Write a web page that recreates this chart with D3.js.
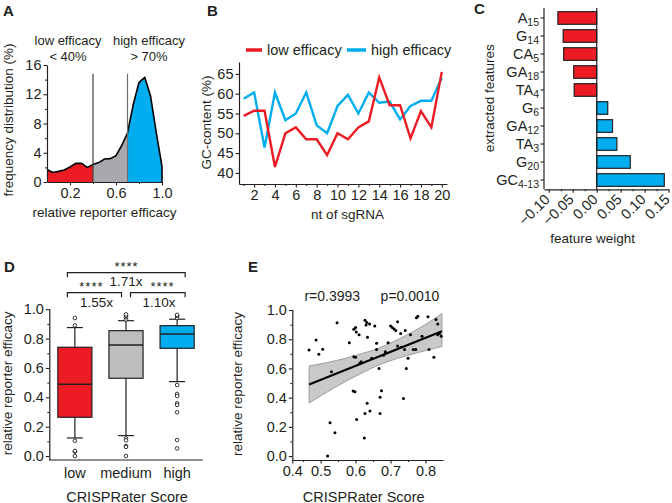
<!DOCTYPE html>
<html><head><meta charset="utf-8">
<script src="https://cdn.jsdelivr.net/npm/d3@7"></script>
<style>
body{margin:0;background:#fff}
svg text{font-family:"Liberation Sans",Arial,sans-serif;fill:#231f20}
</style></head><body><svg id="c" width="672" height="503"></svg>
<script>
// ---------- DATA ----------
// Panel A: frequency distribution of relative reporter efficacy
const effX  = [0.00,0.05,0.10,0.15,0.20,0.25,0.30,0.35,0.40,0.45,0.50,0.55,0.60,0.65,0.70,0.75,0.80,0.85,0.90,0.95,1.00];
const freqY = [1.7, 1.3, 1.45,1.65,2.05,2.55,2.55,2.0, 2.4, 2.65,3.15,3.2, 3.6, 5.0, 6.7, 10.6,13.6,14.3,11.8,6.8, 2.1];
const cutoffs = [0.4, 0.7];
const aYTicks = [0,4,8,12,16];
const aXTicks = [0.2,0.6,1.0];

// Panel B: GC content per nucleotide position
const ntPos = d3.range(1,21);
const gcLow  = [54.4,55.7,55.7,41.5,50.0,51.5,48.5,48.5,44.5,50.0,48.5,51.5,53.0,64.1,57.1,57.1,48.7,55.6,51.5,65.5];
const gcHigh = [58.7,60.3,46.4,60.3,53.3,55.0,60.3,52.0,50.0,56.9,59.7,55.0,60.3,57.7,58.0,53.5,56.9,58.2,58.2,64.0];
const bYTicks = [40,45,50,55,60,65];
const bXTicks = [2,4,6,8,10,12,14,16,18,20];

// Panel C: feature weights
const featBase = ["A","G","CA","GA","TA","G","GA","TA","G","GC"];
const featSub  = ["15","14","5","18","4","6","12","3","20","4-13"];
const featW    = [-0.081,-0.070,-0.069,-0.048,-0.047,0.023,0.033,0.042,0.070,0.141];
const cTicks = [-0.10,-0.05,0.00,0.05,0.10,0.15];

// Panel D: box plots
const dCats = ["low","medium","high"];
const dQ1  = [0.264,0.530,0.734];
const dMed = [0.489,0.757,0.832];
const dQ3  = [0.741,0.854,0.888];
const dLo  = [0.123,0.139,0.507];
const dHi  = [0.875,0.922,0.932];
const dOutLow  = [0.89,0.94,0.104,0.03,0.035,0.0];
const dOutMed  = [0.93,0.945,0.955,0.965,0.12,0.107,0.068,0.062,0.0];
const dOutHigh = [0.94,0.955,0.962,0.484,0.423,0.409,0.359,0.348,0.298,0.109,0.052];
const dYTicks = [0.0,0.2,0.4,0.6,0.8,1.0];
const dFold = ["1.55x","1.10x","1.71x"];

// Panel E: scatter
const eX = [0.467,0.487,0.495,0.506,0.547,0.582,0.595,0.600,0.602,0.610,0.595,0.600,0.612,0.616,0.627,0.632,0.640,0.630,0.634,0.646,0.655,0.660,0.660,0.667,0.680,0.685,0.693,0.700,0.705,0.710,0.715,0.720,0.720,0.729,0.730,0.740,0.742,0.745,0.750,0.757,0.765,0.772,0.774,0.778,0.790,0.807,0.810,0.824,0.830,0.835,0.835,0.840,0.845,0.531,0.593,0.598,0.674,0.670,0.633,0.641,0.627,0.670,0.737,0.603,0.527,0.541,0.625,0.520];
const eY = [0.726,0.795,0.697,0.731,0.913,0.776,0.868,0.880,0.850,0.830,0.680,0.676,0.635,0.645,0.930,0.915,0.905,0.898,0.813,0.669,0.890,0.772,0.730,0.600,0.690,0.714,0.776,0.890,0.880,0.870,0.860,0.753,0.920,0.840,0.745,0.730,0.860,0.600,0.670,0.830,0.730,0.730,0.947,0.957,0.820,0.954,0.730,0.676,0.935,0.905,0.830,0.840,0.820,0.577,0.445,0.440,0.447,0.403,0.361,0.308,0.292,0.292,0.395,0.251,0.228,0.160,0.123,0.000];
const fitX = [0.467,0.847];
const fitY = [0.490,0.855];
const bandX  = [0.467,0.520,0.570,0.620,0.665,0.720,0.770,0.847];
const bandUp = [0.617,0.641,0.669,0.703,0.738,0.797,0.859,0.975];
const bandLo = [0.363,0.441,0.509,0.571,0.622,0.669,0.703,0.750];
const eYTicks = [0.0,0.2,0.4,0.6,0.8,1.0];
const eXTicks = [0.5,0.6,0.7,0.8];

// ---------- STYLE ----------
const INK="#231f20", RED="#ed1c24", BLUE="#00aeef", GRAY="#a7a9ac";
const FS=13, TFS=14.5;
const svg=d3.select("#c");

function styleAxis(g){
  g.select(".domain").attr("stroke",INK).attr("stroke-width",1.2);
  g.selectAll(".tick line").attr("stroke",INK).attr("stroke-width",1.1);
  g.selectAll(".tick text").attr("fill",INK).attr("font-size",TFS).attr("font-family","Liberation Sans, Arial, sans-serif");
}
function minorTicks(g, axis, vals){
  g.append("g").call(axis.tickValues(vals).tickSize(2).tickFormat(""))
   .call(s=>s.select(".domain").remove())
   .selectAll("line").attr("stroke",INK).attr("stroke-width",1);
}
function label(txt,x,y){svg.append("text").attr("x",x).attr("y",y).attr("font-size",15).attr("font-weight","bold").text(txt);}
function title(txt,x,y,rot){
  const t=svg.append("text").attr("font-size",FS+0.5).attr("text-anchor","middle").text(txt);
  if(rot) t.attr("transform",`translate(${x},${y}) rotate(-90)`); else t.attr("x",x).attr("y",y);
  return t;
}

// ---------- PANEL A ----------
{
  const x=d3.scaleLinear().domain([0,1]).range([47,162]);
  const y=d3.scaleLinear().domain([0,16]).range([182,65]);
  const g=svg.append("g");
  const pts=effX.map((v,i)=>({x:v,y:freqY[i]}));
  const area=d3.area().x(d=>x(d.x)).y0(y(0)).y1(d=>y(d.y));
  [[0,cutoffs[0],RED],[cutoffs[0],cutoffs[1],GRAY],[cutoffs[1],1,BLUE]].forEach(([lo,hi,c])=>{
    g.append("path").datum(pts.filter(p=>p.x>=lo-1e-9&&p.x<=hi+1e-9)).attr("d",area).attr("fill",c);
  });
  g.append("path").datum(pts.concat([{x:1,y:0}])).attr("fill","none").attr("stroke","#000").attr("stroke-width",1.6)
   .attr("d",d3.line().x(d=>x(d.x)).y(d=>y(d.y)));
  cutoffs.forEach((c,i)=>g.append("line").attr("x1",x(c)).attr("x2",x(c)).attr("y1",y(14.8)).attr("y2",y(0))
     .attr("stroke",i?"#6d6e71":"#414042").attr("stroke-width",1.2));
  g.append("g").attr("transform","translate(47,0)").call(d3.axisLeft(y).tickValues(aYTicks).tickSize(3.5).tickPadding(2).tickSizeOuter(0)).call(styleAxis)
   .call(s=>minorTicks(s,d3.axisLeft(y),[2,6,10,14]));
  g.append("g").attr("transform","translate(0,182)").call(d3.axisBottom(x).tickValues(aXTicks).tickFormat(d3.format(".1f")).tickSize(3.5).tickPadding(2).tickSizeOuter(0)).call(styleAxis)
   .call(s=>minorTicks(s,d3.axisBottom(x),[0.4,0.8]));
  [["low efficacy",68,45.3],["< 40%",68,60.5],["high efficacy",149,45.3],["> 70%",149,60.5]].forEach(([t,a,b])=>
    svg.append("text").attr("x",a).attr("y",b).attr("text-anchor","middle").attr("font-size",FS).text(t));
  title("frequency distribution (%)",13,120,true);
  title("relative reporter efficacy",104.5,216.5);
  label("A",3,15.5);
}

// ---------- PANEL B ----------
{
  const x=d3.scaleLinear().domain([0.55,20.5]).range([239,447]);
  const y=d3.scaleLinear().domain([37.2,68]).range([184,62]);
  const g=svg.append("g");
  const line=d3.line().x((d,i)=>x(ntPos[i])).y(d=>y(d));
  g.append("path").datum(gcHigh).attr("d",line).attr("fill","none").attr("stroke",BLUE).attr("stroke-width",2.4);
  g.append("path").datum(gcLow).attr("d",line).attr("fill","none").attr("stroke",RED).attr("stroke-width",2.4);
  g.append("g").attr("transform","translate(239,0)").call(d3.axisLeft(y).tickValues(bYTicks).tickSize(3.5).tickPadding(2).tickSizeOuter(0)).call(styleAxis);
  g.append("g").attr("transform","translate(0,184)").call(d3.axisBottom(x).tickValues(bXTicks).tickSize(3.5).tickPadding(2).tickSizeOuter(0)).call(styleAxis)
   .call(s=>minorTicks(s,d3.axisBottom(x),[1,3,5,7,9,11,13,15,17,19]));
  // legend
  g.append("line").attr("x1",246).attr("x2",262).attr("y1",50).attr("y2",50).attr("stroke",RED).attr("stroke-width",3.5);
  g.append("text").attr("x",267).attr("y",54.5).attr("font-size",14.5).text("low efficacy");
  g.append("line").attr("x1",347).attr("x2",366).attr("y1",50).attr("y2",50).attr("stroke",BLUE).attr("stroke-width",3.5);
  g.append("text").attr("x",371).attr("y",54.5).attr("font-size",14.5).text("high efficacy");
  title("GC-content (%)",211,122.5,true);
  title("nt of sgRNA",347.5,218.5);
  label("B",207,15.5);
}

// ---------- PANEL C ----------
{
  const x=d3.scaleLinear().domain([-0.11,0.15]).range([544,668.6]);
  const y=d3.scaleBand().domain(d3.range(featW.length)).range([9,189]).paddingInner(0.3).paddingOuter(0.15);
  const g=svg.append("g");
  g.selectAll("rect").data(featW).join("rect")
   .attr("x",d=>x(Math.min(0,d))).attr("width",d=>Math.abs(x(d)-x(0)))
   .attr("y",(d,i)=>y(i)).attr("height",y.bandwidth())
   .attr("fill",d=>d<0?RED:BLUE).attr("stroke",INK).attr("stroke-width",1.2);
  g.append("line").attr("x1",x(0)).attr("x2",x(0)).attr("y1",8).attr("y2",189.3).attr("stroke",INK).attr("stroke-width",1.2);
  const ax=g.append("g").attr("transform","translate(544,0)").call(d3.axisLeft(y).tickSize(3.5).tickFormat("").tickSizeOuter(0)).call(styleAxis);
  ax.select(".domain").attr("d","M0,8V189.3");
  featBase.forEach((b,i)=>{
    const t=g.append("text").attr("x",539).attr("y",y(i)+y.bandwidth()/2+4.5).attr("text-anchor","end").attr("font-size",14.5).text(b);
    t.append("tspan").attr("font-size",10.5).attr("dy",3).text(featSub[i]);
  });
  const bx=g.append("g").attr("transform","translate(0,189.3)").call(d3.axisBottom(x).tickValues(cTicks).tickSize(3.5).tickSizeOuter(0).tickFormat(d3.format(".2f"))).call(styleAxis);
  bx.selectAll(".tick text").attr("text-anchor","end").attr("dy",0).attr("y",0)
    .attr("transform","translate(1.5,11) rotate(-45)");
  minorTicks(bx,d3.axisBottom(x),[-0.075,-0.025,0.025,0.075,0.125]);
  title("extracted features",494.3,98.3,true);
  title("feature weight",592.7,242.6);
  label("C",474,14);
}

// ---------- PANEL D ----------
{
  const x=d3.scaleBand().domain(dCats).range([49.3,202.7]).paddingInner(0.333).paddingOuter(0.1667);
  const y=d3.scaleLinear().domain([-0.027,1.005]).range([460,308.5]);
  const g=svg.append("g");
  const cols=[RED,"#bcbec0",BLUE];
  const outs=[dOutLow,dOutMed,dOutHigh];
  dCats.forEach((c,i)=>{
    const cx=x(c)+x.bandwidth()/2, w=x.bandwidth();
    g.append("line").attr("x1",cx).attr("x2",cx).attr("y1",y(dLo[i])).attr("y2",y(dHi[i])).attr("stroke",INK).attr("stroke-width",1.2);
    [dLo[i],dHi[i]].forEach(v=>g.append("line").attr("x1",cx-8).attr("x2",cx+8).attr("y1",y(v)).attr("y2",y(v)).attr("stroke",INK).attr("stroke-width",1.2));
    g.append("rect").attr("x",x(c)).attr("width",w).attr("y",y(dQ3[i])).attr("height",y(dQ1[i])-y(dQ3[i]))
     .attr("fill",cols[i]).attr("stroke",INK).attr("stroke-width",1.2);
    g.append("line").attr("x1",x(c)).attr("x2",x(c)+w).attr("y1",y(dMed[i])).attr("y2",y(dMed[i])).attr("stroke",INK).attr("stroke-width",1.5);
    g.selectAll(null).data(outs[i]).join("circle").attr("cx",cx).attr("cy",d=>y(d)).attr("r",1.8)
     .attr("fill","#fff").attr("stroke",INK).attr("stroke-width",0.9);
  });
  g.append("g").attr("transform","translate(49.3,0)").call(d3.axisLeft(y).tickValues(dYTicks).tickFormat(d3.format(".1f")).tickSize(3.5).tickPadding(2).tickSizeOuter(0)).call(styleAxis)
   .call(s=>minorTicks(s,d3.axisLeft(y),[0.1,0.3,0.5,0.7,0.9]));
  const bx=g.append("g").attr("transform","translate(0,460)").call(d3.axisBottom(x).tickSize(0).tickPadding(8)).call(styleAxis);
  bx.select(".domain").attr("d","M49.3,0H202.7");
  // significance brackets
  const c0=x("low")+x.bandwidth()/2, c1=x("medium")+x.bandwidth()/2, c2=x("high")+x.bandwidth()/2;
  const br=(a,b,yy)=>g.append("path").attr("d",`M${a},${yy+4.6}V${yy}H${b}V${yy+4.6}`).attr("fill","none").attr("stroke",INK).attr("stroke-width",1.2);
  br(c0-7.5,c1-4.5,292.7); br(c1+4.5,c2+8,292.7); br(c0-7.5,c2+8,272.7);
  const tx=(t,xx,yy,fs)=>g.append("text").attr("x",xx).attr("y",yy).attr("text-anchor","middle").attr("font-size",fs).text(t);
  tx("****",(c0+c2)/2+0.5,271,13).attr("letter-spacing",1);
  tx(dFold[2],(c0+c2)/2,286,13.5);
  tx("****",(c0+c1)/2-9,291.2,13).attr("letter-spacing",1);
  tx("****",(c1+c2)/2+11,291.2,13).attr("letter-spacing",1);
  tx(dFold[0],(c0+c1)/2-4,306.5,13.5);
  tx(dFold[1],(c1+c2)/2+7.5,306.5,13.5);
  title("relative reporter efficacy",12,383.3,true);
  title("CRISPRater Score",127,501.5).attr("font-size",14.5);
  label("D",4,271.5);
}

// ---------- PANEL E ----------
{
  const x=d3.scaleLinear().domain([0.419,0.85]).range([292.3,443]);
  const y=d3.scaleLinear().domain([-0.027,1.005]).range([460,309.3]);
  const g=svg.append("g");
  const band=d3.area().x((d,i)=>x(bandX[i])).y0((d,i)=>y(bandLo[i])).y1(d=>y(d)).curve(d3.curveMonotoneX);
  g.append("path").datum(bandUp).attr("d",band).attr("fill","#c8c9cb").attr("stroke","#8a8c8e").attr("stroke-width",0.8);
  g.append("path").datum(fitY).attr("d",d3.line().x((d,i)=>x(fitX[i])).y(d=>y(d))).attr("stroke","#000").attr("stroke-width",2).attr("fill","none");
  g.selectAll(null).data(eX).join("circle").attr("cx",d=>x(d)).attr("cy",(d,i)=>y(eY[i])).attr("r",1.5).attr("fill","#000");
  g.append("g").attr("transform","translate(292.3,0)").call(d3.axisLeft(y).tickValues(eYTicks).tickFormat(d3.format(".1f")).tickSize(3.5).tickPadding(2).tickSizeOuter(0)).call(styleAxis)
   .call(s=>minorTicks(s,d3.axisLeft(y),[0.1,0.3,0.5,0.7,0.9]));
  const bx=g.append("g").attr("transform","translate(0,460)").call(d3.axisBottom(x).tickValues([0.419].concat(eXTicks)).tickFormat(d=>d3.format(".1f")(d<0.45?0.4:d)).tickSize(3.5).tickPadding(2).tickSizeOuter(0)).call(styleAxis);
  minorTicks(bx,d3.axisBottom(x),[0.45,0.55,0.65,0.75]);
  g.append("text").attr("x",332.3).attr("y",301).attr("text-anchor","middle").attr("font-size",14).text("r=0.3993");
  g.append("text").attr("x",410).attr("y",301).attr("text-anchor","middle").attr("font-size",14).text("p=0.0010");
  title("relative reporter efficacy",242,384,true);
  title("CRISPRater Score",363.7,501.5).attr("font-size",14.5);
  label("E",248,272);
}
</script></body></html>
